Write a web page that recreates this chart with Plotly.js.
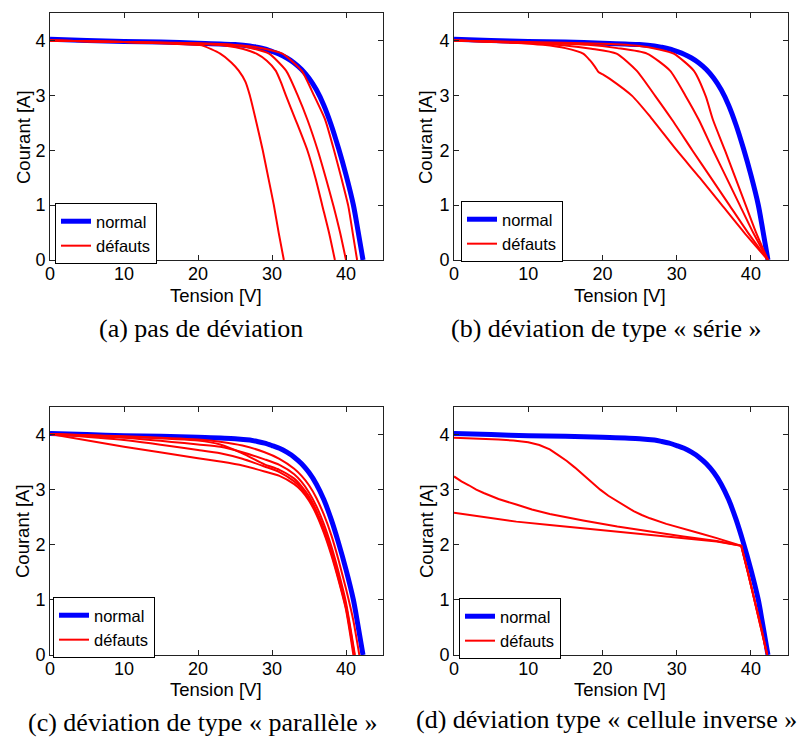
<!DOCTYPE html>
<html>
<head>
<meta charset="utf-8">
<script src="https://cdn.plot.ly/plotly-3.0.1.min.js"></script>
<style>
html,body{margin:0;padding:0;background:#fff;}
#chart{width:802px;height:737px;}
</style>
</head>
<body>
<div id="chart"></div>
<script>
// ---- Data (Tension [V], Courant [A]) ----
var normalV = [0, 5, 10, 15, 20, 25, 27, 28, 29, 30, 31, 32, 33, 34, 35, 36, 37, 38, 39, 40, 41, 41.6, 42.3];
var normalI = [4.02, 4.0, 3.98, 3.97, 3.95, 3.925, 3.9, 3.875, 3.845, 3.8, 3.75, 3.68, 3.59, 3.47, 3.31, 3.1, 2.82, 2.46, 2.03, 1.55, 1.0, 0.55, 0];

// (a) pas de déviation
var a1V = [0, 10, 18, 20.5, 23.0, 24.5, 25.5, 26.4, 27.0, 27.9, 28.75, 29.5, 30.25, 30.9, 31.6];
var a1I = [4.0, 3.97, 3.93, 3.91, 3.76, 3.6, 3.45, 3.25, 3.0, 2.5, 2.0, 1.5, 1.0, 0.5, 0];
var a2V = [0, 10, 20, 24, 26, 27.9, 29.3, 30.5, 31.2, 31.9, 33.2, 34.8, 35.9, 36.8, 37.7, 38.5];
var a2I = [4.0, 3.97, 3.94, 3.9, 3.85, 3.76, 3.63, 3.45, 3.24, 2.99, 2.55, 1.99, 1.48, 0.99, 0.5, 0];
var a3V = [0, 10, 20, 25, 27.5, 29.6, 31.9, 33.5, 34.8, 36.2, 37.3, 38.3, 39.2, 40.0];
var a3I = [4.0, 3.97, 3.94, 3.91, 3.85, 3.76, 3.45, 2.99, 2.55, 1.99, 1.48, 0.99, 0.5, 0];
var a4V = [0, 10, 20, 26, 29, 31.4, 34.0, 35.7, 37.2, 38.4, 39.4, 40.3, 40.9, 41.5];
var a4I = [4.0, 3.97, 3.95, 3.91, 3.85, 3.76, 3.45, 2.99, 2.55, 1.99, 1.48, 0.99, 0.5, 0];

// (b) déviation de type « série »
var b1V = [0, 10, 20, 25, 27.5, 29.6, 32.3, 33.9, 34.9, 36.5, 37.9, 39.3, 40.7, 42.3];
var b1I = [4.0, 3.97, 3.94, 3.9, 3.84, 3.76, 3.45, 2.99, 2.55, 2.0, 1.5, 1.0, 0.5, 0];
var b2V = [0, 10, 18, 22, 26.0, 29.1, 31.2, 33.0, 34.9, 36.7, 38.5, 40.3, 42.3];
var b2I = [4.0, 3.96, 3.92, 3.86, 3.76, 3.45, 2.99, 2.55, 2.0, 1.5, 1.0, 0.5, 0];
var b3V = [0, 10, 15, 18.5, 21.9, 24.6, 27.1, 29.4, 32.1, 34.6, 37.1, 39.6, 42.3];
var b3I = [4.0, 3.95, 3.91, 3.85, 3.76, 3.45, 2.99, 2.55, 2.0, 1.5, 1.0, 0.5, 0];
var b4V = [0, 8, 12, 15, 17.4, 18.3, 19.0, 19.5, 20.2, 21, 24.0, 26.5, 30.0, 33.1, 36.1, 39.1, 42.3];
var b4I = [4.0, 3.96, 3.92, 3.86, 3.76, 3.64, 3.52, 3.42, 3.37, 3.3, 2.99, 2.6, 2.0, 1.5, 1.0, 0.5, 0];

// (c) déviation de type « parallèle »
var c1V = [0, 10, 20, 23, 26, 29, 31, 33, 34, 35, 36, 37, 38, 39, 40, 41, 41.8];
var c1I = [4.01, 3.97, 3.91, 3.87, 3.8, 3.68, 3.56, 3.38, 3.25, 3.08, 2.85, 2.55, 2.18, 1.72, 1.2, 0.62, 0];
var c2V = [0, 10, 20, 23, 26, 29, 31, 33, 34, 35, 36, 37, 38, 39, 40, 41.2];
var c2I = [4.01, 3.94, 3.82, 3.78, 3.68, 3.55, 3.45, 3.28, 3.14, 2.95, 2.7, 2.38, 1.98, 1.5, 0.95, 0];
var c3V = [0, 10, 20, 23, 26, 29, 31, 33, 34, 35, 36, 37, 38, 39, 40, 41.1];
var c3I = [4.01, 3.9, 3.72, 3.66, 3.56, 3.42, 3.32, 3.15, 3.02, 2.83, 2.58, 2.25, 1.86, 1.38, 0.85, 0];
var c4V = [0, 10, 20, 23, 26, 29, 31, 33, 34, 35, 36, 37, 38, 39, 40, 41.0];
var c4I = [4.01, 3.78, 3.57, 3.51, 3.44, 3.33, 3.25, 3.1, 2.98, 2.8, 2.55, 2.22, 1.82, 1.35, 0.82, 0];
var c5V = [0, 10, 20, 23, 26, 29, 31, 33, 34, 35, 36, 37, 38, 39, 40, 41.15];
var c5I = [4.01, 3.96, 3.89, 3.82, 3.66, 3.46, 3.36, 3.2, 3.06, 2.88, 2.62, 2.3, 1.9, 1.42, 0.9, 0];

// (d) déviation type « cellule inverse »
var d1V = [0, 3, 6, 8, 10, 11.5, 12.9, 14, 15.2, 16.3, 17.4, 18.5, 19.7, 20.8, 22.0, 23.1, 24.2, 25.3, 26.4, 28.6, 30.9, 33.1, 35.4, 37, 38.7, 39.6, 40.5, 41.4, 42.2];
var d1I = [3.94, 3.93, 3.91, 3.89, 3.86, 3.81, 3.73, 3.63, 3.52, 3.40, 3.27, 3.13, 3.0, 2.89, 2.79, 2.70, 2.61, 2.54, 2.48, 2.38, 2.3, 2.21, 2.12, 2.05, 1.98, 1.5, 1.0, 0.5, 0];
var d2V = [0, 1, 2, 3, 4, 6, 8.4, 10.5, 12.9, 15, 17.4, 22, 26.4, 30.9, 35.4, 38.7, 39.6, 40.5, 41.4, 42.2];
var d2I = [3.24, 3.15, 3.08, 3.0, 2.94, 2.83, 2.73, 2.64, 2.56, 2.50, 2.44, 2.33, 2.24, 2.15, 2.07, 1.98, 1.5, 1.0, 0.5, 0];
var d3V = [0, 4, 8.4, 12.9, 17.4, 26.4, 35.4, 38.7, 39.6, 40.5, 41.4, 42.2];
var d3I = [2.58, 2.50, 2.42, 2.36, 2.30, 2.18, 2.06, 1.98, 1.5, 1.0, 0.5, 0];

var xTicks = [0, 10, 20, 30, 40];
var yTicks = [0, 1, 2, 3, 4];
var captions = ['(a) pas de déviation', '(b) déviation de type « série »',
                '(c) déviation de type « parallèle »', '(d) déviation type « cellule inverse »'];
var legendNames = ['normal', 'défauts'];

// ---- Build ----
var BLUE = '#0000ff', RED = '#ff0000';
var W = 802, H = 737;
var panels = [
  {sfx: '', leg: 'legend', shape: 'spline', reds: [[a1V,a1I],[a2V,a2I],[a3V,a3I],[a4V,a4I]]},
  {sfx: '2', leg: 'legend2', shape: 'spline', reds: [[b1V,b1I],[b2V,b2I],[b3V,b3I],[b4V,b4I]]},
  {sfx: '3', leg: 'legend3', shape: 'spline', reds: [[c1V,c1I],[c2V,c2I],[c3V,c3I],[c4V,c4I],[c5V,c5I]]},
  {sfx: '4', leg: 'legend4', shape: 'linear', reds: [[d1V,d1I],[d2V,d2I],[d3V,d3I]]}
];
var traces = [];
panels.forEach(function(p){
  var xa = 'x' + p.sfx, ya = 'y' + p.sfx;
  traces.push({x: normalV, y: normalI, xaxis: xa, yaxis: ya, mode: 'lines', name: legendNames[0],
    legend: p.leg, line: {color: BLUE, width: 5, shape: 'spline', smoothing: 0.8}, hoverinfo: 'skip'});
  p.reds.forEach(function(r, k){
    traces.push({x: r[0], y: r[1], xaxis: xa, yaxis: ya, mode: 'lines', name: legendNames[1],
      legend: p.leg, showlegend: k === 0,
      line: p.shape === 'spline' ? {color: RED, width: 2, shape: 'spline', smoothing: 0.6} : {color: RED, width: 2},
      hoverinfo: 'skip'});
  });
});

var FONT = 'Liberation Sans, Arial, sans-serif';
function px(x){ return x / W; }
function py(y){ return 1 - y / H; }
function xax(dom, anchor){
  return {domain: dom, anchor: anchor, range: [0, 45], tickvals: xTicks, ticks: 'inside', ticklen: 5,
    tickcolor: '#222', showline: true, linecolor: '#222', linewidth: 1, mirror: 'ticks', ticklabelstandoff: -3,
    showgrid: false, zeroline: false, tickfont: {family: FONT, size: 18, color: '#000'}, fixedrange: true};
}
function yax(dom, anchor){
  return {domain: dom, anchor: anchor, range: [0, 4.5], tickvals: yTicks, ticks: 'inside', ticklen: 5,
    tickcolor: '#222', showline: true, linecolor: '#222', linewidth: 1, mirror: 'ticks',
    showgrid: false, zeroline: false, tickfont: {family: FONT, size: 18, color: '#000'}, fixedrange: true};
}
var xL = [px(50), px(383)], xR = [px(454), px(788)];
var yT = [py(260), py(13)], yB = [py(655), py(407)];

function leg(x, y){
  return {x: px(x), y: py(y), xanchor: 'left', yanchor: 'top', bgcolor: '#fff', bordercolor: '#000',
    borderwidth: 1, font: {family: FONT, size: 16.5, color: '#000'}, tracegroupgap: 0, itemwidth: 30};
}

var ann = [];
var titlePos = [
  {tx: 216, ty: 295, cx: 24, cy: 137, capx: 201, capy: 328},
  {tx: 620, ty: 295, cx: 426, cy: 137, capx: 606, capy: 328},
  {tx: 216, ty: 689, cx: 22, cy: 531, capx: 202, capy: 722},
  {tx: 620, ty: 689, cx: 426, cy: 531, capx: 606, capy: 719}
];
titlePos.forEach(function(t, i){
  ann.push({text: 'Tension [V]', x: px(t.tx), y: py(t.ty), xref: 'paper', yref: 'paper', showarrow: false,
    xanchor: 'center', yanchor: 'middle', font: {family: FONT, size: 18.5, color: '#000'}});
  ann.push({text: 'Courant [A]', x: px(t.cx), y: py(t.cy), xref: 'paper', yref: 'paper', showarrow: false,
    textangle: -90, xanchor: 'center', yanchor: 'middle', font: {family: FONT, size: 18.5, color: '#000'}});
  ann.push({text: captions[i], x: px(t.capx), y: py(t.capy), xref: 'paper', yref: 'paper', showarrow: false,
    xanchor: 'center', yanchor: 'middle', font: {family: 'Liberation Serif, Times New Roman, serif', size: 26, color: '#000'}});
});

var layout = {
  width: W, height: H, margin: {l: 0, r: 0, t: 0, b: 0},
  paper_bgcolor: '#fff', plot_bgcolor: '#fff', font: {family: FONT},
  xaxis: xax(xL, 'y'), yaxis: yax(yT, 'x'),
  xaxis2: xax(xR, 'y2'), yaxis2: yax(yT, 'x2'),
  xaxis3: xax(xL, 'y3'), yaxis3: yax(yB, 'x3'),
  xaxis4: xax(xR, 'y4'), yaxis4: yax(yB, 'x4'),
  legend: leg(55, 203), legend2: leg(461, 201), legend3: leg(53, 597), legend4: leg(459, 598),
  annotations: ann
};
Plotly.newPlot('chart', traces, layout, {displayModeBar: false, staticPlot: true});
</script>
</body>
</html>
